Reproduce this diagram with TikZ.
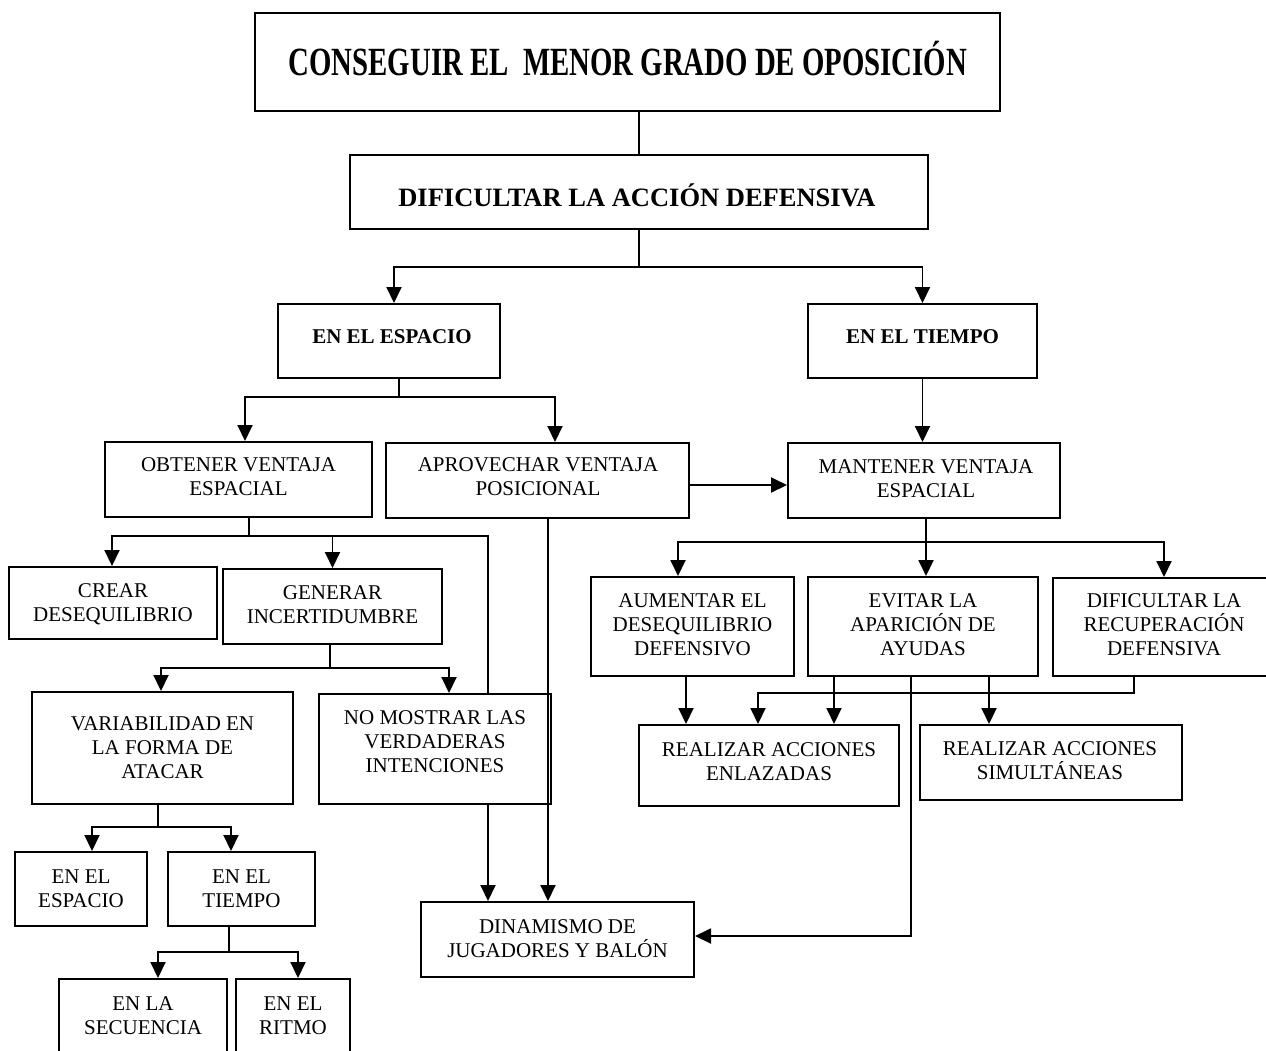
\documentclass[tikz,border=0pt]{standalone}
\usepackage{fontspec}
\setmainfont{Liberation Serif}
\newfontfamily\titlefont[FakeStretch=0.72]{Liberation Serif}
\usetikzlibrary{arrows.meta}

% box given by its corners: name, x1, y1, x2, y2 (y grows downwards)
\newcommand\boxat[6][]{%
  \pgfmathsetmacro\bxc{(#3+#5)/2}\pgfmathsetmacro\byc{(#4+#6)/2}%
  \pgfmathsetmacro\bw{#5-#3}\pgfmathsetmacro\bh{#6-#4}%
  \node[box,#1,minimum width=\bw pt,minimum height=\bh pt] (#2) at (\bxc,\byc) {};}

\begin{document}
\begin{tikzpicture}[x=1pt,y=-1pt,
  box/.style={draw,line width=2pt,inner sep=0pt,rectangle},
  txt/.style={align=center,inner sep=0pt,font=\fontsize{21}{24}\selectfont},
  hdr/.style={align=center,inner sep=0pt,font=\fontsize{21}{24}\selectfont\bfseries},
  ln/.style={line width=1.9pt},
  arr/.style={ln,-{Triangle[width=15pt,length=16pt]}},
]
\useasboundingbox (0,0) rectangle (1266,1050);
\clip (0,0) rectangle (1266,1050);

% ---------- boxes ----------
\boxat[line width=2.4pt]{title}{255}{13}{1000}{111}
\boxat{dif}{350}{155}{928}{229}
\boxat{esp}{278}{304}{500}{378}
\boxat{tie}{808}{304}{1037}{378}
\boxat{obt}{105}{442}{372}{517}
\boxat{apr}{386}{443}{689}{518}
\boxat{man}{788}{443}{1060}{518}
\boxat{crear}{9}{567}{217}{639}
\boxat{gen}{223}{569}{442}{644}
\boxat{var}{32}{692}{293}{804}
\boxat{nomos}{319}{694}{551}{804}
\boxat{ee}{15}{852}{147}{926}
\boxat{et}{168}{852}{315}{926}
\boxat{sec}{59}{979}{227}{1070}
\boxat{rit}{236}{979}{350}{1070}
\boxat{aum}{591}{577}{794}{676}
\boxat{evi}{808}{577}{1038}{676}
\boxat{dif2}{1053}{578}{1275}{676}
\boxat{enl}{639}{725}{899}{806}
\boxat{sim}{920}{725}{1182}{800}
\boxat{din}{421}{902}{694}{977}

% ---------- texts ----------
\node[inner sep=0pt,font=\titlefont\bfseries\fontsize{40}{44}\selectfont] (t-title) at (628,59) {CONSEGUIR EL~~MENOR GRADO DE OPOSICIÓN};
\node[inner sep=0pt,font=\fontsize{26.5}{30}\selectfont\bfseries] (t-dif) at (637,195) {DIFICULTAR LA ACCIÓN DEFENSIVA};
\node[hdr] (t-esp) at (392,337) {EN EL ESPACIO};
\node[hdr] (t-tie) at (922.5,337) {EN EL TIEMPO};
\node[txt] (t-obt) at (238.5,477) {OBTENER VENTAJA\\ESPACIAL};
\node[txt] (t-apr) at (538,477) {APROVECHAR VENTAJA\\POSICIONAL};
\node[txt] (t-man) at (926,478.5) {MANTENER VENTAJA\\ESPACIAL};
\node[txt] (t-crear) at (113,604) {CREAR\\DESEQUILIBRIO};
\node[txt] (t-gen) at (332.5,605) {GENERAR\\INCERTIDUMBRE};
\node[txt] (t-var) at (162.5,748) {VARIABILIDAD EN\\LA FORMA DE\\ATACAR};
\node[txt] (t-nomos) at (435,741.5) {NO MOSTRAR LAS\\VERDADERAS\\INTENCIONES};
\node[txt] (t-ee) at (81,889) {EN EL\\ESPACIO};
\node[txt] (t-et) at (241.5,889) {EN EL\\TIEMPO};
\node[txt] (t-sec) at (143,1015.5) {EN LA\\SECUENCIA};
\node[txt] (t-rit) at (293,1015.5) {EN EL\\RITMO};
\node[txt] (t-aum) at (692.5,625) {AUMENTAR EL\\DESEQUILIBRIO\\DEFENSIVO};
\node[txt] (t-evi) at (923,625) {EVITAR LA\\APARICIÓN DE\\AYUDAS};
\node[txt] (t-dif2) at (1164,625) {DIFICULTAR LA\\RECUPERACIÓN\\DEFENSIVA};
\node[txt] (t-enl) at (769,761.5) {REALIZAR ACCIONES\\ENLAZADAS};
\node[txt] (t-sim) at (1050,760.5) {REALIZAR ACCIONES\\SIMULTÁNEAS};
\node[txt] (t-din) at (557.5,938.5) {DINAMISMO DE\\JUGADORES Y BALÓN};

% ---------- connectors ----------
\draw[ln] (title.south -| dif.north) -- (dif.north);

\coordinate (j1) at (639,267);
\draw[ln] (dif.south -| j1) -- (j1);
\draw[arr] (j1) -| ([xshift=5pt]esp.north);
\draw[arr] (j1) -| (tie.north);

\draw[arr] (tie.south) -- (tie.south |- man.north);

\coordinate (j2) at (399,397);
\draw[ln] (esp.south -| j2) -- (j2);
\draw[arr] (j2) -| ([xshift=6.5pt]obt.north);
\draw[arr] (j2) -| ([xshift=17.5pt]apr.north);

\draw[arr] ([yshift=-4.5pt]apr.east) -- ([yshift=-4.5pt]man.west);

\coordinate (j3) at (249,536);
\draw[ln] (obt.south -| j3) -- (j3);
\draw[arr] (j3) -| ([xshift=-1pt]crear.north);
\draw[arr] (j3) -| (gen.north);
\draw[ln] (j3) -| ([xshift=53pt]nomos.north);

\coordinate (j4) at (330,668);
\draw[ln] (gen.south -| j4) -- (j4);
\draw[arr] (j4) -| ([xshift=-1.5pt]var.north);
\draw[arr] (j4) -| ([xshift=14pt]nomos.north);

\draw[arr] ([xshift=10.5pt]apr.south) -- ([xshift=10.5pt]apr.south |- din.north);
\draw[arr] ([xshift=53pt]nomos.south) -- ([xshift=53pt]nomos.south |- din.north);

\coordinate (j5) at (158,827);
\draw[ln] (var.south -| j5) -- (j5);
\draw[arr] (j5) -| ([xshift=11pt]ee.north);
\draw[arr] (j5) -| ([xshift=-10.5pt]et.north);

\coordinate (j6) at (229,952);
\draw[ln] (et.south -| j6) -- (j6);
\draw[arr] (j6) -| ([xshift=15pt]sec.north);
\draw[arr] (j6) -| ([xshift=5pt]rit.north);

\coordinate (j7) at (926,542);
\draw[ln] (man.south -| j7) -- (j7);
\draw[arr] (j7) -- (j7 |- evi.north);
\draw[arr] (j7) -| ([xshift=-14.5pt]aum.north);
\draw[arr] (j7) -| (dif2.north);

\draw[arr] ([xshift=-6.5pt]aum.south) -- ([xshift=-6.5pt]aum.south |- enl.north);
\draw[arr] ([xshift=-89pt]evi.south) -- ([xshift=-89pt]evi.south |- enl.north);
\draw[arr] ([xshift=-12pt]evi.south) |- ([yshift=3.5pt]din.east);
\draw[arr] ([xshift=66pt]evi.south) -- ([xshift=66pt]evi.south |- sim.north);

\coordinate (j9) at (758,693);
\draw[arr] ([xshift=-30pt]dif2.south) |- (j9) -- (j9 |- enl.north);
\end{tikzpicture}
\end{document}
